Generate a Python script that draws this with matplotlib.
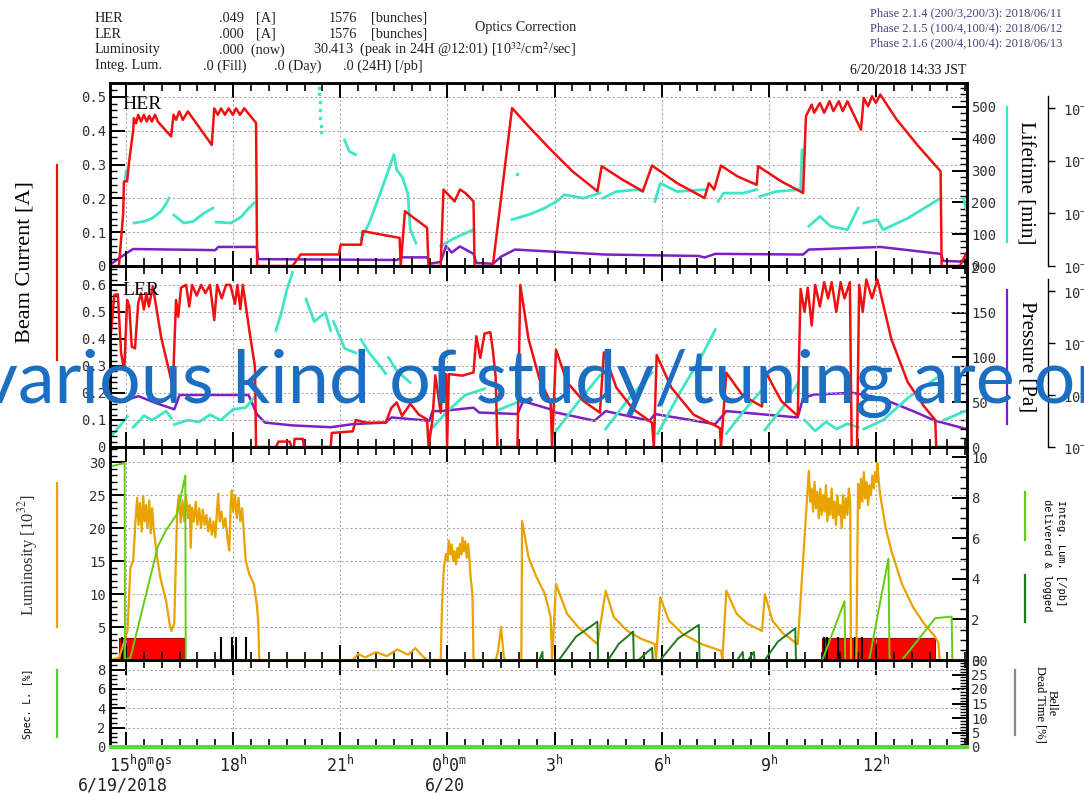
''' beam history: HER/LER current, luminosity, spec. lum '''
import numpy as np
import matplotlib
import matplotlib.pyplot as plt
from matplotlib.lines import Line2D
from matplotlib.transforms import offset_copy
from matplotlib.ticker import (MultipleLocator, FixedLocator, NullLocator,
                               FuncFormatter)

matplotlib.use('Agg')

nan = np.nan

# time axis: hours counted from 6/19 0:00
her_t = [14.58, 14.80, 14.92, 14.94, 15.03, 15.08, 15.20, 15.22, 15.28, 15.34,
         15.42, 15.50, 15.58, 15.65, 15.72, 15.81, 15.89, 16.26, 16.33, 16.40,
         16.49, 16.59, 16.73, 17.40, 17.47, 17.57, 17.66, 17.77, 17.87, 17.99,
         18.08, 18.19, 18.31, 18.64, 18.67,
         18.70, 19.66, 19.89, 20.96, 21.01, 21.58, 21.63, 22.66, 22.69, 22.81,
         23.43, 23.47, 23.81, 23.89, 24.20, 24.35, 24.50, 24.73, 24.76, 25.27,
         25.81, 26.27, 26.89, 27.50, 28.20, 28.32, 28.89, 29.47, 29.73, 30.43,
         31.20, 31.32, 31.47, 31.66, 32.12, 32.66, 32.70, 33.35, 33.96, 34.04,
         34.20, 34.27, 34.43, 34.55, 34.70, 34.81, 34.96, 35.07, 35.20, 35.58,
         35.66, 35.78, 35.89, 36.00, 36.12, 36.58, 37.19, 37.81, 37.84, 38.35,
         38.58]
her_a = [0.00, 0.00, 0.156, 0.25, 0.25, 0.304, 0.402, 0.437, 0.422, 0.447,
         0.427, 0.447, 0.427, 0.444, 0.427, 0.447, 0.427, 0.383, 0.447, 0.432,
         0.457, 0.432, 0.457, 0.358, 0.466, 0.447, 0.466, 0.447, 0.466, 0.447,
         0.466, 0.447, 0.466, 0.423, 0.0,
         0.0, 0.0, 0.034, 0.034, 0.063, 0.063, 0.103, 0.083, 0.0, 0.162,
         0.113, 0.0, 0.0, 0.226, 0.191, 0.226, 0.216, 0.191, 0.0, 0.0,
         0.467, 0.413, 0.344, 0.280, 0.221, 0.295, 0.256, 0.221, 0.297, 0.245,
         0.201, 0.245, 0.226, 0.297, 0.265, 0.240, 0.295, 0.250, 0.216, 0.443,
         0.477, 0.453, 0.482, 0.453, 0.487, 0.458, 0.487, 0.458, 0.487, 0.403,
         0.497, 0.472, 0.502, 0.482, 0.507, 0.433, 0.354, 0.280, 0.0, 0.0,
         0.048]

ler_t = [14.58, 14.67, 14.77, 14.86, 14.95, 15.03, 15.09, 15.16, 15.25, 15.34,
         15.42, 15.50, 15.57, 15.64, 15.75, 15.98, 16.31, 16.40, 16.46, 16.54,
         16.68, 16.77, 16.85, 16.98, 17.10, 17.22, 17.35, 17.47, 17.55, 17.68,
         17.80, 17.92, 18.05, 18.12, 18.20, 18.27, 18.45, 18.61, 18.64,
         19.20, 19.27, 19.58, 19.63, 19.70, 19.72, 19.95, 19.98, 20.73, 20.76,
         21.35, 21.43, 21.73, 22.27, 22.43, 22.58, 22.73, 22.96, 23.20, 23.43,
         23.47, 23.58, 23.66, 23.81, 23.89, 23.96, 23.99, 24.04, 24.42, 24.73,
         24.81, 24.92, 25.04, 25.20, 25.27, 25.35, 25.40, 25.96, 26.04, 26.27,
         26.58, 26.89, 26.93, 27.04, 27.35, 27.81, 28.27, 28.38, 28.73, 29.20,
         29.73, 29.78, 29.86, 30.27, 30.89, 31.63, 31.66, 31.81, 32.27, 32.81,
         32.86, 33.35, 33.81, 33.89, 34.00, 34.09, 34.20, 34.30, 34.43, 34.55,
         34.66, 34.76, 34.89, 35.01, 35.12, 35.27, 35.32, 35.47, 35.53, 35.63,
         35.73, 35.89, 36.04, 36.43, 36.89, 37.35, 37.66, 37.69, 38.55]
ler_a = [0.427, 0.563, 0.565, 0.348, 0.285, 0.544, 0.52, 0.371, 0.365, 0.533,
         0.57, 0.509, 0.57, 0.52, 0.595, 0.408, 0.223, 0.544, 0.482, 0.59,
         0.60, 0.52, 0.60, 0.56, 0.60, 0.57, 0.60, 0.47, 0.60, 0.55,
         0.60, 0.60, 0.53, 0.60, 0.51, 0.60, 0.433, 0.297, 0.0,
         0.0, 0.02, 0.02, 0.0, 0.0, 0.03, 0.03, 0.0, 0.0, 0.052,
         0.058, 0.10, 0.09, 0.09, 0.145, 0.165, 0.115, 0.16, 0.12, 0.102,
         0.0, 0.10, 0.265, 0.127, 0.27, 0.27, 0.0, 0.27, 0.264, 0.276,
         0.41, 0.33, 0.42, 0.425, 0.36, 0.26, 0.0, 0.0, 0.60, 0.40,
         0.25, 0.165, 0.0, 0.36, 0.24, 0.17, 0.127, 0.35, 0.22, 0.14,
         0.09, 0.0, 0.34, 0.22, 0.12, 0.07, 0.0, 0.275, 0.19, 0.15,
         0.29, 0.17, 0.115, 0.585, 0.50, 0.59, 0.45, 0.60, 0.52, 0.61,
         0.55, 0.61, 0.50, 0.61, 0.55, 0.61, 0.0, 0.0, 0.60, 0.50,
         0.62, 0.55, 0.62, 0.40, 0.24, 0.15, 0.10, 0.0, 0.0]

# vacuum pressure [Pa]
her_p_t = [14.58, 15.04, 15.20, 17.50, 17.58, 18.66, 18.70, 22.58, 22.73, 23.43,
           23.50, 23.81, 23.96, 24.12, 24.35, 24.73, 24.81, 25.27, 25.50, 25.89,
           28.43, 31.04, 31.20, 31.50, 33.96, 34.12, 36.12, 37.81, 37.89, 38.55]
her_p = [1.1e-8, 1.8e-8, 2.1e-8, 2.0e-8, 2.3e-8, 2.3e-8, 1.35e-8, 1.3e-8,
         1.46e-8, 1.46e-8, 1.1e-8, 1.2e-8, 2.4e-8, 1.8e-8, 2.35e-8, 1.7e-8,
         1.15e-8, 1.1e-8, 1.5e-8, 2.05e-8, 1.65e-8, 1.55e-8, 1.45e-8, 1.7e-8,
         1.65e-8, 2.05e-8, 2.3e-8, 1.7e-8, 1.25e-8, 1.2e-8]
ler_p_t = [14.58, 14.89, 15.35, 15.81, 16.35, 16.50, 18.43, 18.66, 18.89, 19.66,
           20.73, 21.35, 22.27, 22.43, 23.50, 23.58, 23.81, 24.73, 24.89, 25.96,
           26.12, 26.89, 27.04, 28.12, 28.43, 29.66, 29.81, 31.50, 31.81, 33.81,
           33.96, 34.27, 35.35, 36.12, 37.04, 37.66, 38.55]
ler_p = [9.5e-8, 7.6e-8, 9.5e-8, 7.1e-8, 5.3e-8, 1.0e-7, 1.0e-7, 4.3e-8,
         2.95e-8, 2.6e-8, 2.4e-8, 2.75e-8, 2.95e-8, 3.7e-8, 3.2e-8, 4.9e-8,
         4.9e-8, 5.7e-8, 4.6e-8, 4.3e-8, 7.6e-8, 5.3e-8, 4.6e-8, 3.2e-8,
         4.9e-8, 3.2e-8, 4.3e-8, 2.75e-8, 4.9e-8, 3.7e-8, 8.8e-8, 1.02e-7,
         1.1e-7, 8.8e-8, 4.9e-8, 3.2e-8, 2.2e-8]

# beam lifetime [min], nan separates fills
her_life_t = [14.98, 15.00, 15.03, nan, 15.22, 15.50, 15.73, 15.96, 16.12, 16.20,
              nan, 16.34, 16.62, 16.88, 17.18, 17.43, nan, 17.52, 17.94, 18.22,
              18.44, 18.58, nan, 21.12, 21.25, 21.43, nan, 21.58, 21.81, 22.12,
              22.35, 22.50, 22.58, 22.73, 22.89, 22.96, 23.12, nan, 23.81, 24.12,
              24.42, 24.73, nan, 25.81, 26.27, 26.73, 27.12, 27.27, 27.81, 28.27,
              nan, 28.35, 28.73, 29.35, 29.47, nan, 29.81, 29.96, 30.43, 31.20,
              nan, 31.58, 31.73, 32.27, 32.66, nan, 32.74, 33.20, 33.89, 33.93,
              nan, 34.12, 34.43, 34.73, 35.20, 35.50, nan, 35.66, 36.04, 36.20,
              36.89, 37.81, nan, 38.45, 38.55]
her_life = [270, 300, 285, nan, 135, 140, 150, 170, 195, 213,
            nan, 160, 135, 140, 166, 182, nan, 138, 135, 154,
            182, 198, nan, 396, 360, 350, nan, 83, 135, 229,
            302, 350, 302, 280, 229, 114, 72, nan, 62, 83,
            99, 114, nan, 146, 161, 182, 208, 224, 213, 229,
            nan, 213, 234, 240, 234, nan, 203, 260, 234, 240,
            nan, 203, 229, 229, 240, nan, 218, 234, 240, 365,
            nan, 125, 156, 125, 114, 182, nan, 135, 146, 114,
            150, 213, nan, 213, 170]
her_life_dot_t = [20.40, 20.41, 20.42, 20.43, 20.44, 20.45, 20.46, 25.95]
her_life_dot = [560, 540, 515, 490, 465, 440, 420, 290]

ler_life_t = [14.58, 14.75, 15.04, nan, 15.20, 15.50, 15.73, 16.12, 16.27, nan,
              16.35, 16.73, 17.04, 17.35, 17.65, 18.00, 18.35, 18.58, nan,
              19.20, 19.35, 19.50, 19.66, nan, 20.04, 20.27, 20.58, 20.73, nan,
              20.81, 21.12, 21.43, nan, 21.58, 21.81, 22.12, 22.27, nan,
              22.35, 22.58, 22.96, nan, 23.50, 24.00, 24.50, 25.04, nan,
              25.35, 25.96, nan, 27.04, 27.66, 28.27, nan, 28.43, 29.10, 29.73,
              nan, 29.89, 30.50, 31.10, 31.50, nan, 31.81, 32.30, 32.81, nan,
              32.89, 33.40, 33.81, nan, 34.00, 34.30, 34.60, 34.90, 35.20, 35.50,
              nan, 35.66, 36.20, 36.90, 37.81, nan, 37.90, 38.50]
ler_life = [12, 20, 34, nan, 22, 35, 30, 40, 32, nan,
            25, 30, 28, 36, 30, 42, 44, 55, nan,
            130, 150, 175, 195, nan, 165, 140, 150, 130, nan,
            140, 110, 105, nan, 120, 105, 90, 82, nan,
            100, 85, 72, nan, 18, 40, 58, 65, nan,
            40, 50, nan, 18, 50, 80, nan, 20, 55, 83,
            nan, 15, 60, 100, 131, nan, 15, 40, 64, nan,
            19, 45, 71, nan, 30, 18, 28, 20, 26, 22,
            nan, 20, 30, 55, 80, nan, 30, 40]

# luminosity [10^32 /cm^2/s]
lum_t = [14.58, 14.81, 15.04, 15.12, 15.20,
         15.27, 15.31, 15.35, 15.39, 15.44, 15.48, 15.52, 15.56, 15.60, 15.65,
         15.69, 15.73, 15.77, 15.87, 15.96, 16.12, 16.22, 16.27, 16.35,
         16.43, 16.48, 16.53, 16.58, 16.63, 16.68, 16.73, 16.78, 16.81, 16.85,
         16.90, 16.95, 17.00, 17.05, 17.10, 17.15, 17.20, 17.25, 17.30, 17.35,
         17.40, 17.45, 17.50, 17.55, 17.58, 17.62, 17.67, 17.73, 17.78, 17.84,
         17.89, 17.93, 17.96, 18.00, 18.05, 18.10, 18.15, 18.20, 18.25, 18.30,
         18.35, 18.45, 18.58, 18.66, 18.70, 18.73,
         21.35, 21.50, 21.70, 22.00, 22.30, 22.60, 22.90, 23.10, 23.30, 23.43,
         23.81, 23.85, 23.90, 23.96, 24.00, 24.04, 24.08, 24.12, 24.16, 24.20,
         24.24, 24.28, 24.32, 24.35, 24.39, 24.42, 24.46, 24.50, 24.54, 24.58,
         24.62, 24.65, 24.70, 24.73, 24.76,
         25.35, 25.42, 25.50, 25.58, 25.62,
         26.07, 26.09, 26.27, 26.50, 26.73, 26.89, 26.93,
         27.04, 27.35, 27.66, 27.97, 28.20,
         28.43, 28.66, 29.04, 29.43, 29.81, 29.84,
         29.96, 30.20, 30.58, 31.12, 31.66, 31.70,
         31.81, 32.10, 32.40, 32.81,
         32.89, 33.10, 33.40, 33.81,
         34.12, 34.16, 34.20, 34.24, 34.28, 34.32, 34.36, 34.40, 34.44, 34.48,
         34.52, 34.56, 34.60, 34.64, 34.68, 34.72, 34.76, 34.80, 34.84, 34.88,
         34.92, 34.96, 35.00, 35.04, 35.08, 35.12, 35.16, 35.20, 35.24, 35.28,
         35.30, 35.45,
         35.50, 35.54, 35.58, 35.62, 35.66, 35.70, 35.74, 35.78, 35.82, 35.86,
         35.90, 35.94, 35.98, 36.02, 36.04, 36.08, 36.12,
         36.27, 36.43, 36.73, 37.04, 37.35, 37.66, 37.75, 37.78, 38.55]
lum = [0.0, 0.4, 4.4, 14.0, 15.1,
       21.6, 24.6, 20.5, 23.8, 19.5, 24.9, 21.0, 23.5, 20.0, 24.2,
       19.2, 23.0, 20.0, 15.6, 12.5, 9.0, 5.5, 4.4, 5.5,
       22.6, 25.0, 20.8, 24.2, 21.0, 25.0, 21.5, 23.5, 17.0, 23.1,
       21.0, 24.0, 20.5, 23.0, 20.0, 22.8, 20.5, 22.0, 19.5, 21.5,
       19.0, 21.0, 18.6, 23.0, 25.2, 21.0, 22.5, 20.1, 21.5, 18.5,
       16.6, 23.5, 25.7, 22.5, 25.0, 21.5, 24.6, 21.0, 23.0, 19.0,
       15.1, 13.0, 11.5, 8.5, 6.0, 0.0,
       0.0, 0.9, 0.4, 1.2, 0.6, 1.6, 0.8, 1.8, 0.6, 0.0,
       0.0, 8.5, 14.0, 16.1, 15.0, 18.1, 16.0, 17.5, 15.0, 16.5,
       14.5, 17.0, 15.5, 17.6, 16.0, 18.6, 16.5, 18.0, 15.5, 17.6,
       15.0, 12.5, 10.0, 0.4, 0.0,
       0.0, 1.4, 5.0, 0.4, 0.0,
       0.0, 21.1, 15.6, 12.5, 10.0, 6.5, 0.0,
       11.5, 7.0, 5.0, 3.5, 2.4,
       10.5, 6.5, 4.4, 3.2, 2.4, 0.0,
       9.5, 6.0, 4.0, 2.4, 1.4, 0.0,
       10.5, 7.0, 5.5, 4.4,
       10.0, 6.0, 4.0, 2.4,
       28.7, 24.0, 26.0, 22.5, 27.0, 23.0, 25.5, 21.5, 26.0, 22.0,
       25.0, 22.5, 26.5, 21.0, 24.5, 22.0, 26.0, 21.5, 24.0, 20.5,
       25.0, 22.0, 23.5, 20.0, 25.0, 21.5, 24.5, 22.0, 26.0, 24.0,
       0.0, 0.0,
       26.7, 23.0, 27.5, 24.0, 28.5, 24.5, 27.0, 23.5, 26.5, 25.0,
       28.0, 26.0, 28.5, 27.0, 29.9, 27.0, 25.0,
       20.1, 16.6, 11.5, 8.0, 5.5, 3.5, 2.6, 0.0, 0.0]

# integrated luminosity [/pb]: delivered and logged
int_t = [14.58, 14.96, 14.97, 15.12, 15.89, 16.12, 16.43, 16.66, 16.67, 34.50,
         35.12, 35.14, 35.81, 36.35, 36.38, 36.73, 37.66, 38.12, 38.14, 38.55]
int_del = [9.55, 9.71, 0.0, 0.1, 5.6, 6.4, 7.2, 9.1, 0.0, 0.0,
           2.9, 0.0, 0.0, 5.0, 0.0, 0.0, 2.06, 2.14, 0.0, 0.0]
log_t = [26.58, 26.66, 26.67, nan, 27.12, 27.60, 28.20, 28.22, nan,
         28.50, 28.80, 29.20, 29.22, nan, 29.35, 29.73, 29.75, nan,
         29.96, 30.45, 31.04, 31.06, nan, 32.12, 32.27, 32.29, nan,
         32.42, 32.58, 32.60, nan, 32.89, 33.25, 33.74, 33.76]
int_log = [0.0, 0.4, 0.0, nan, 0.0, 1.15, 1.89, 0.0, nan,
           0.0, 0.8, 1.40, 0.0, nan, 0.0, 0.6, 0.0, nan,
           0.0, 1.05, 1.73, 0.0, nan, 0.0, 0.4, 0.0, nan,
           0.0, 0.4, 0.0, nan, 0.0, 0.9, 1.56, 0.0]

# injection periods and run flags
inj_start = [14.81, 34.50]
inj_end = [16.63, 37.66]
inj_level = 3.4
flag_t = [14.90, 14.98, 17.66, 17.96, 18.09, 18.35, 34.55, 34.62, 34.95,
          35.40, 35.62]
flag_h = 3.5

spec_t = [14.58, 38.55]
spec = [0.0, 0.0]

xtick_t = [15, 18, 21, 24, 27, 30, 33, 36]
xtick_lab = ['$15^h0^m0^s$', '$18^h$', '$21^h$', '$0^h0^m$', '$3^h$',
             '$6^h$', '$9^h$', '$12^h$']
date_t = [15, 24]
date_lab = ['6/19/2018', '6/20']

RED = '#ee1111'
CYAN = '#3ee6c8'
PURPLE = '#7d1fc4'
ORANGE = '#e8a300'
LGREEN = '#66cc11'
DGREEN = '#1f7a1f'
SERIF = 'Liberation Serif'

W, H = 1084, 795
T0, T1 = 14.55, 38.55


def fx(px):
    return px / W


def fy(py):
    return 1 - py / H


def make_panel(fig, top, bottom):
    ''' host axes of one strip '''
    ax = fig.add_axes([fx(110), fy(bottom), 857 / W, (bottom - top) / H])
    ax.set_xlim(T0, T1)
    ax.xaxis.set_major_locator(FixedLocator(xtick_t))
    ax.xaxis.set_minor_locator(MultipleLocator(0.5))
    ax.tick_params(axis='x', which='both', direction='in', top=True,
                   bottom=True, labelbottom=False)
    ax.tick_params(axis='x', which='major', length=11, width=1.4)
    ax.tick_params(axis='x', which='minor', length=6, width=1.2)
    ax.grid(True, which='major', color='#aaaaaa', linestyle=(0, (2, 2)),
            linewidth=0.8)
    for s in ax.spines.values():
        s.set_linewidth(1.8)
    ax.patch.set_visible(False)
    ax.set_zorder(3)
    return ax


def y_ticks(ax, lim, major, minor, fmt):
    ax.set_ylim(*lim)
    ax.yaxis.set_major_locator(MultipleLocator(major))
    ax.yaxis.set_minor_locator(MultipleLocator(minor))
    ax.yaxis.set_major_formatter(FuncFormatter(fmt))
    ax.tick_params(axis='y', which='major', direction='in', length=11,
                   width=1.4, labelsize=10, labelcolor='#333333', pad=3)
    ax.tick_params(axis='y', which='minor', direction='in', length=5,
                   width=1.0)


def right_axis(ax, zorder):
    tw = ax.twinx()
    tw.set_zorder(zorder)
    for s in tw.spines.values():
        s.set_linewidth(1.8)
    return tw


def log_axis(ax, top_exp):
    ''' far right pressure scale '''
    axp = ax.twinx()
    axp.set_zorder(1)
    axp.set_yscale('log')
    axp.set_ylim(1e-8, 10 ** top_exp)
    axp.spines['right'].set_position(('axes', 1.0945))
    axp.spines['right'].set_bounds(1e-8, 1.7e-5)
    axp.spines['right'].set_linewidth(1.0)
    for s in ('top', 'bottom', 'left'):
        axp.spines[s].set_visible(False)
    axp.yaxis.set_major_locator(FixedLocator([1e-8, 1e-7, 1e-6, 1e-5]))
    axp.yaxis.set_minor_locator(NullLocator())
    axp.tick_params(axis='y', direction='out', length=5, width=1,
                    labelsize=10, labelcolor='#333333', pad=6)
    return axp


def fmt_current(v, _):
    return '0' if abs(v) < 1e-9 else f'{v:.1f}'


def fmt_plain(v, _):
    return f'{v:g}'


def fmt_no_zero(v, _):
    return '' if abs(v) < 1e-9 else f'{v:g}'


def legend_bar(fig, x, y0, y1, color):
    fig.add_artist(Line2D([fx(x), fx(x)], [fy(y0), fy(y1)], color=color,
                          lw=1.6))


def main():
    plt.rcParams['font.family'] = 'DejaVu Sans Mono'
    plt.rcParams['mathtext.fontset'] = 'custom'
    plt.rcParams['mathtext.rm'] = 'DejaVu Sans Mono'
    plt.rcParams['mathtext.it'] = 'DejaVu Sans Mono'
    plt.rcParams['mathtext.bf'] = 'DejaVu Sans Mono:bold'

    fig = plt.figure(figsize=(10.84, 7.95), dpi=100)

    # HER strip
    ax1 = make_panel(fig, 83, 266)
    y_ticks(ax1, (0, 0.541), 0.1, 0.02, fmt_current)
    ax1.plot(her_t, her_a, color=RED, lw=1.8)
    lt1 = right_axis(ax1, 2)
    y_ticks(lt1, (0, 575), 100, 20, fmt_plain)
    lt1.plot(her_life_t, her_life, color=CYAN, lw=2.0)
    lt1.plot(her_life_dot_t, her_life_dot, ls='none', marker='s', ms=1.5,
             color=CYAN)
    pr1 = log_axis(ax1, -4.527)
    pr1.plot(her_p_t, her_p, color=PURPLE, lw=1.8)
    ax1.text(0.015, 0.88, 'HER', transform=ax1.transAxes, va='center',
             family=SERIF, size=14)

    # LER strip
    ax2 = make_panel(fig, 266, 447)
    y_ticks(ax2, (0, 0.67), 0.1, 0.02, fmt_current)
    ax2.plot(ler_t, ler_a, color=RED, lw=1.8)
    lt2 = right_axis(ax2, 2)
    y_ticks(lt2, (0, 202), 50, 10, fmt_plain)
    lt2.plot(ler_life_t, ler_life, color=CYAN, lw=2.0)
    pr2 = log_axis(ax2, -4.52)
    pr2.plot(ler_p_t, ler_p, color=PURPLE, lw=1.8)
    ax2.text(0.015, 0.867, 'LER', transform=ax2.transAxes, va='center',
             family=SERIF, size=14)

    # luminosity strip
    ax3 = make_panel(fig, 447, 660)
    y_ticks(ax3, (0, 32.3), 5, 1, fmt_no_zero)
    ax3.bar(inj_start, inj_level, width=np.subtract(inj_end, inj_start),
            align='edge', color='#ff0000', edgecolor='#aa0000', lw=0.8,
            zorder=1)
    ax3.vlines(flag_t, 0, flag_h, color='black', lw=1.5, zorder=2)
    ax3.plot(lum_t, lum, color=ORANGE, lw=1.6, zorder=3, clip_on=False)
    il3 = right_axis(ax3, 4)
    y_ticks(il3, (0, 10.5), 2, 0.5, fmt_plain)
    il3.plot(int_t, int_del, color=LGREEN, lw=1.4)
    il3.plot(log_t, int_log, color=DGREEN, lw=1.4)

    # spec. lum / dead time strip
    ax4 = make_panel(fig, 660, 747)
    y_ticks(ax4, (0, 9.0), 2, 0.5, fmt_plain)
    ax4.plot(spec_t, spec, color='#55dd33', lw=3, clip_on=False, zorder=5)
    dt4 = right_axis(ax4, 2)
    y_ticks(dt4, (0, 30), 5, 1, fmt_plain)

    xform = ax4.get_xaxis_transform()
    for t, lab in zip(xtick_t, xtick_lab):
        if 'm' in lab:
            ax4.text(t, -0.287, lab, ha='left', va='baseline', size=12,
                     color='#222222',
                     transform=offset_copy(xform, fig, x=-12, units='points'))
        else:
            ax4.text(t, -0.287, lab, ha='center', va='baseline', size=12,
                     color='#222222', transform=xform)
    for t, lab in zip(date_t, date_lab):
        ax4.text(t, -0.50, lab, ha='center', va='baseline', size=12,
                 color='#222222',
                 transform=offset_copy(xform, fig, x=-2, units='points'))

    # axis titles and colour keys
    fig.text(fx(25), fy(262), 'Beam Current [A]', rotation=90, ha='center',
             va='center', family=SERIF, size=16)
    legend_bar(fig, 57, 165, 360, RED)
    fig.text(fx(28), fy(555), 'Luminosity [10$^{32}$]', rotation=90,
             ha='center', va='center', family=SERIF, size=12,
             math_fontfamily='stix', color='#333333')
    legend_bar(fig, 57, 483, 627, ORANGE)
    fig.text(fx(28), fy(704), 'Spec. L. [%]', rotation=90, ha='center',
             va='center', size=7)
    legend_bar(fig, 57, 670, 737, '#55cc33')

    fig.text(fx(1025), fy(183), 'Lifetime [min]', rotation=270, ha='center',
             va='center', family=SERIF, size=15)
    legend_bar(fig, 1007, 107, 242, CYAN)
    fig.text(fx(1027), fy(357), 'Pressure [Pa]', rotation=270, ha='center',
             va='center', family=SERIF, size=15)
    legend_bar(fig, 1007, 290, 424, PURPLE)
    fig.text(fx(1061), fy(553), 'Integ. Lum. [/pb]', rotation=270,
             ha='center', va='center', family='Liberation Mono', size=7.6)
    fig.text(fx(1047), fy(555), 'delivered & logged', rotation=270,
             ha='center', va='center', family='Liberation Mono', size=7.6)
    legend_bar(fig, 1025, 492, 540, LGREEN)
    legend_bar(fig, 1025, 575, 622, DGREEN)
    fig.text(fx(1052), fy(703), 'Belle', rotation=270, ha='center',
             va='center', family=SERIF, size=9)
    fig.text(fx(1040), fy(704), 'Dead Time [%]', rotation=270, ha='center',
             va='center', family=SERIF, size=9)
    legend_bar(fig, 1015, 670, 735, '#888888')

    # status header
    hdr = dict(va='center', family=SERIF, size=10.3, color='#222222')
    rows = [
        (18, [(95, 'HER'), (219, '.049'), (256, '[A]'), (329, '1576'),
              (371, '[bunches]')]),
        (34, [(95, 'LER'), (219, '.000'), (256, '[A]'), (329, '1576'),
              (371, '[bunches]')]),
        (50, [(95, 'Luminosity'), (219, '.000  (now)'),
              (313, '30.413  (peak in 24H @12:01) '
                    '[10$^{32}$/cm$^{2}$/sec]')]),
        (66, [(95, 'Integ. Lum.'), (203, '.0 (Fill)'), (274, '.0 (Day)'),
              (343, '.0 (24H) [/pb]')]),
    ]
    for y, cells in rows:
        for x, s in cells:
            fig.text(fx(x), fy(y), s, math_fontfamily='stix', **hdr)
    fig.text(fx(475), fy(27), 'Optics Correction', **hdr)
    phases = ['Phase 2.1.4 (200/3,200/3): 2018/06/11',
              'Phase 2.1.5 (100/4,100/4): 2018/06/12',
              'Phase 2.1.6 (200/4,100/4): 2018/06/13']
    for i, s in enumerate(phases):
        fig.text(fx(870), fy(13 + 15 * i), s, va='center', family=SERIF,
                 size=9, color='#45457d')
    fig.text(fx(850), fy(71), '6/20/2018 14:33 JST', va='center',
             family=SERIF, size=10, color='#111111')

    fig.text(fx(-20), fy(403), 'various kind of study/tuning are on',
             ha='left', va='baseline', family='Lato', size=53,
             color='#1b6ec2', zorder=20)

    fig.savefig('out.png', dpi=100)


if __name__ == '__main__':
    main()
